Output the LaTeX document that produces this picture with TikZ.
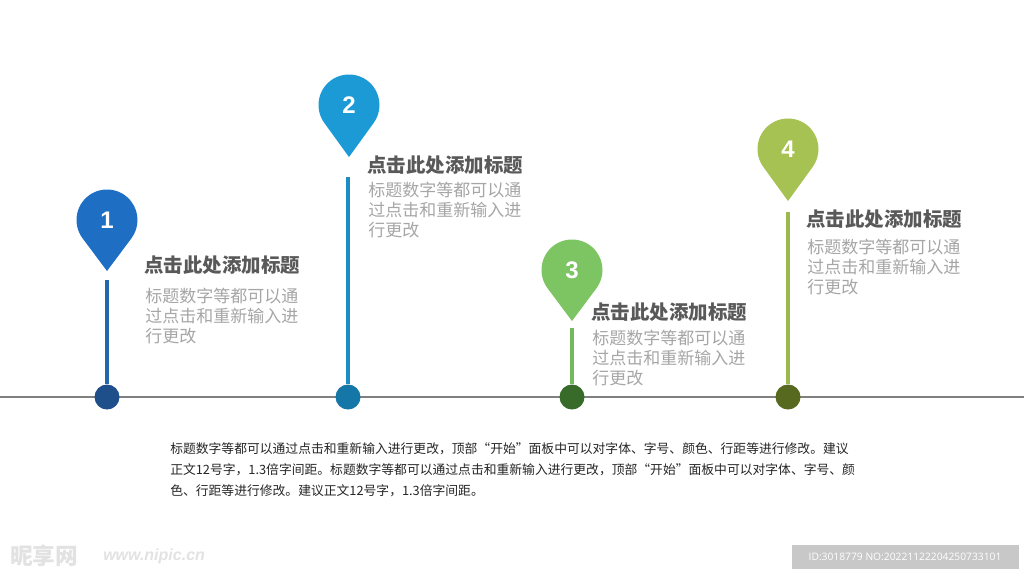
\documentclass[tikz,border=0pt]{standalone}
\usepackage{fontspec}
\newfontfamily\cjk{Noto Sans CJK SC}
\newfontfamily\numfont{Liberation Sans}
\newfontfamily\idfont{Open Sans}
\definecolor{pinA}{HTML}{1E6FC4}
\definecolor{stemA}{HTML}{2267AE}
\definecolor{dotA}{HTML}{1F4F8A}
\definecolor{pinB}{HTML}{1B9AD6}
\definecolor{stemB}{HTML}{1B8CC4}
\definecolor{dotB}{HTML}{1577A8}
\definecolor{pinC}{HTML}{7DC462}
\definecolor{stemC}{HTML}{74B95A}
\definecolor{dotC}{HTML}{386B2A}
\definecolor{pinD}{HTML}{A5C252}
\definecolor{stemD}{HTML}{9DB84E}
\definecolor{dotD}{HTML}{56691F}
\definecolor{titlegray}{HTML}{595959}
\definecolor{bodygray}{HTML}{A6A6A6}
\definecolor{paratext}{HTML}{262626}
\definecolor{axisgray}{HTML}{808080}
\definecolor{idbox}{HTML}{C8C8C8}
\definecolor{wmark}{HTML}{E2E2E2}
\newcommand\drawpin[5]{%
  \coordinate (c#5) at (#1,#2);
  \coordinate (t#5) at (#1,#3);
  \fill[#4] (c#5) ++(143.3:30.5) coordinate (b#5)
    arc[start angle=143.3,end angle=396.7,radius=30.5]
    -- (t#5) -- cycle;
  \node[numtxt] (n#5) at (c#5) {#5};
}
\begin{document}
\begin{tikzpicture}[x=0.75pt,y=-0.75pt,
  numtxt/.style={text=white,inner sep=0,font=\numfont\bfseries\fontsize{18}{18}\selectfont},
  titletxt/.style={anchor=base west,inner sep=0,text=titlegray,font=\cjk\bfseries\fontsize{14.6}{18}\selectfont},
  bodytxt/.style={anchor=base west,inner sep=0,text=bodygray,align=left,font=\cjk\fontsize{12.75}{15}\selectfont},
  paratxt/.style={anchor=base west,inner sep=0,text=paratext,font=\cjk\fontsize{9.6}{12}\selectfont},
  stemline/.style={line width=3pt},
  dotnode/.style={circle,inner sep=0,minimum size=18.75pt},
  axisline/.style={draw=axisgray,line width=1.1pt}]
\useasboundingbox (0,0) rectangle (1024,576);
\fill[white] (0,0) rectangle (1024,576);
% axis
\coordinate (axL) at (0,397);
\coordinate (axR) at (1024,397);
\draw[axisline] (axL) -- (axR);
% pins
\drawpin{107}{220}{271}{pinA}{1}
\drawpin{349}{105}{157}{pinB}{2}
\drawpin{572}{270}{321}{pinC}{3}
\drawpin{788}{149}{201}{pinD}{4}
% dots
\node[dotnode,fill=dotA] (d1) at (107,397) {};
\node[dotnode,fill=dotB] (d2) at (348,397) {};
\node[dotnode,fill=dotC] (d3) at (572,397) {};
\node[dotnode,fill=dotD] (d4) at (788,397) {};
% stems
\coordinate (s1) at (107,280);
\coordinate (s2) at (348,177);
\coordinate (s3) at (572,328);
\coordinate (s4) at (788,212);
\draw[stemline,stemA] (s1) -- (d1);
\draw[stemline,stemB] (s2) -- (d2);
\draw[stemline,stemC] (s3) -- (d3);
\draw[stemline,stemD] (s4) -- (d4);
% texts (body nodes anchored at the baseline of their last line)
\node[titletxt] (h1) at (144,272.5) {点击此处添加标题};
\node[bodytxt] (b1) at (145,342) {标题数字等都可以通\\过点击和重新输入进\\行更改};
\node[titletxt] (h2) at (367,172.4) {点击此处添加标题};
\node[bodytxt] (b2) at (368,236.5) {标题数字等都可以通\\过点击和重新输入进\\行更改};
\node[titletxt] (h3) at (591,319) {点击此处添加标题};
\node[bodytxt] (b3) at (592,384.5) {标题数字等都可以通\\过点击和重新输入进\\行更改};
\node[titletxt] (h4) at (806,226.5) {点击此处添加标题};
\node[bodytxt] (b4) at (807,293.5) {标题数字等都可以通\\过点击和重新输入进\\行更改};
% paragraph
\node[paratxt] (p1) at (170,453) {标题数字等都可以通过点击和重新输入进行更改，顶部“开始”面板中可以对字体、字号、颜色、行距等进行修改。建议};
\node[paratxt] (p2) at (170,474) {正文12号字，1.3倍字间距。标题数字等都可以通过点击和重新输入进行更改，顶部“开始”面板中可以对字体、字号、颜};
\node[paratxt] (p3) at (170,495) {色、行距等进行修改。建议正文12号字，1.3倍字间距。};
% watermarks
\node[anchor=west,inner sep=0,text=wmark,font=\cjk\bfseries\fontsize{17}{17}\selectfont] (wm1) at (10,556) {昵享网};
\node[anchor=west,inner sep=0,text=wmark,font=\numfont\bfseries\itshape\fontsize{12}{12}\selectfont] (wm2) at (103,556) {www.nipic.cn};
\node[fill=idbox,inner sep=0,minimum width=170.25pt,minimum height=18pt,text=white,font=\idfont\fontsize{7.7}{9}\selectfont] (idb) at (905,557) {ID:3018779 NO:20221122204250733101};
\end{tikzpicture}
\end{document}
